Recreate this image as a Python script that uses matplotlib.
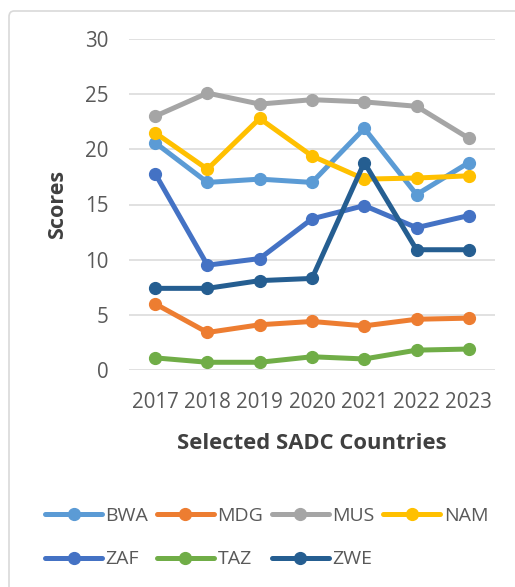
import matplotlib
matplotlib.use("Agg")
import matplotlib.pyplot as plt
from matplotlib.patches import FancyBboxPatch

plt.rcParams['font.family'] = ['Open Sans', 'DejaVu Sans']

years = ["2017", "2018", "2019", "2020", "2021", "2022", "2023"]

bwa = [20.6, 17.0, 17.3, 17.0, 21.9, 15.9, 18.8]
mdg = [6.0, 3.4, 4.1, 4.4, 4.0, 4.6, 4.7]
mus = [23.0, 25.1, 24.1, 24.5, 24.3, 23.9, 21.0]
nam = [21.5, 18.2, 22.8, 19.4, 17.3, 17.4, 17.6]
zaf = [17.8, 9.5, 10.1, 13.7, 14.9, 12.9, 14.0]
taz = [1.1, 0.7, 0.7, 1.2, 1.0, 1.8, 1.9]
zwe = [7.4, 7.4, 8.1, 8.3, 18.8, 10.9, 10.9]

series = [
    ("BWA", bwa, "#5B9BD5"),
    ("MDG", mdg, "#ED7D31"),
    ("MUS", mus, "#A5A5A5"),
    ("NAM", nam, "#FFC000"),
    ("ZAF", zaf, "#4472C4"),
    ("TAZ", taz, "#70AD47"),
    ("ZWE", zwe, "#255E91"),
]

W, H = 515, 587
fig = plt.figure(figsize=(W / 100, H / 100), dpi=100)
fig.patch.set_facecolor("white")

# chart-area border (only top/left edges fall inside the canvas)
border = FancyBboxPatch((9 / W, -0.05), 1.2, 1.05 - 11 / H,
                        boxstyle="round,pad=0,rounding_size=0.01",
                        transform=fig.transFigure, fill=False,
                        edgecolor="#D9D9D9", linewidth=1.2)
fig.patches.append(border)

ax = fig.add_axes([129 / W, 1 - 370 / H, (495 - 129) / W, (370 - 39) / H])
ax.set_facecolor("none")

x = list(range(len(years)))
handles = {}
for name, vals, col in series:
    (ln,) = ax.plot(x, vals, color=col, linewidth=3.6, marker="o",
                    markersize=8.5, label=name, solid_capstyle="round",
                    solid_joinstyle="round", zorder=3)
    handles[name] = ln

ax.set_xlim(-0.5, len(years) - 0.5)
ax.set_ylim(0, 30)
ax.set_yticks([0, 5, 10, 15, 20, 25, 30])
ax.set_xticks(x)
ax.set_xticklabels(years)
ax.grid(axis="y", color="#D9D9D9", linewidth=1.1, zorder=0)
ax.set_axisbelow(True)
for s in ax.spines.values():
    s.set_visible(False)
ax.tick_params(axis="both", length=0, labelsize=14.8, colors="#595959")
ax.tick_params(axis="y", pad=15)
ax.tick_params(axis="x", pad=16)

ax.set_ylabel("Scores", fontsize=15.5, fontweight="bold", color="#404040",
              labelpad=12)
ax.set_xlabel("Selected SADC Countries", fontsize=15.8, fontweight="bold",
              color="#404040", labelpad=14)

order = ["BWA", "ZAF", "MDG", "TAZ", "MUS", "ZWE", "NAM"]
leg = fig.legend([handles[n] for n in order], order, ncol=4, loc="center",
                 bbox_to_anchor=(0.518, 0.084), frameon=False,
                 fontsize=14, handlelength=2.9, handletextpad=0.2,
                 columnspacing=0.45, labelspacing=1.3, borderpad=0)
for t in leg.get_texts():
    t.set_color("#595959")

fig.savefig("out.png", dpi=100, facecolor="white")
